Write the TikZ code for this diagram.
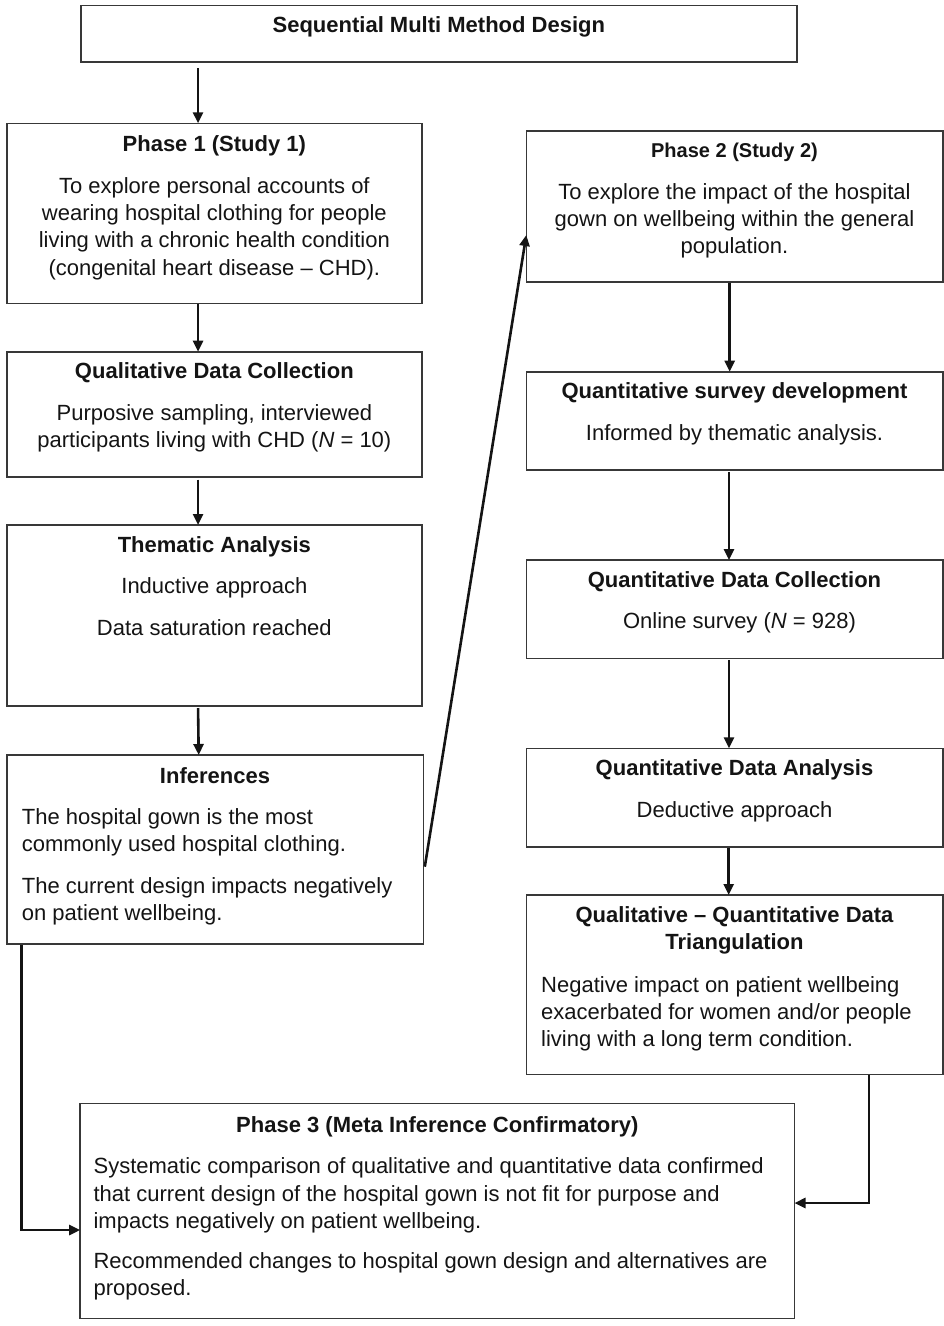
\documentclass[tikz,border=0pt]{standalone}
\usepackage{fontspec}
\setmainfont{Liberation Sans}
\usetikzlibrary{arrows.meta,calc}
\begin{document}
\begin{tikzpicture}[x=1pt,y=-1pt,
  box/.style={draw=black!78,line width=1.6pt,inner sep=0pt,outer sep=0pt,anchor=north west},
  hd/.style={font=\fontsize{22}{27.3}\selectfont\bfseries,inner sep=0pt,text=black!92,align=center},
  hdsmall/.style={font=\fontsize{20}{25}\selectfont\bfseries,inner sep=0pt,text=black!92},
  bd/.style={font=\fontsize{22}{27.3}\selectfont,inner sep=0pt,text=black!92},
  arr/.style={draw=black!92,line width=2.6pt,-{Triangle[length=11pt,width=10pt]}}]
\useasboundingbox (0,0) rectangle (944,1326);

% boxes
\node[box,minimum width=716.3pt,minimum height=56.4pt] (top) at (80.7,5.3) {};
\node[box,minimum width=415.3pt,minimum height=180pt] (p1) at (6.7,123.3) {};
\node[box,minimum width=415.3pt,minimum height=125pt] (qdc) at (6.7,351.7) {};
\node[box,minimum width=415.3pt,minimum height=181pt] (ta) at (6.7,525) {};
\node[box,minimum width=416.6pt,minimum height=189pt] (inf) at (6.7,755) {};
\node[box,minimum width=416.4pt,minimum height=150.7pt] (p2) at (526.3,131) {};
\node[box,minimum width=416.4pt,minimum height=98.3pt] (qsd) at (526.3,371.7) {};
\node[box,minimum width=416.4pt,minimum height=98.3pt] (qnc) at (526.3,560) {};
\node[box,minimum width=416.4pt,minimum height=98.4pt] (qda) at (526.3,748.3) {};
\node[box,minimum width=416.4pt,minimum height=179.3pt] (tri) at (526.3,895) {};
\node[box,minimum width=714.3pt,minimum height=215pt] (p3) at (80.2,1103.3) {};

% texts
\node[hd,anchor=base] (toph) at ($(top.north)+(0,26.7)$) {Sequential Multi Method Design};

\node[hd,anchor=base] (p1h) at ($(p1.north)+(0,27.7)$) {Phase 1 (Study 1)};
\node[bd,anchor=north,align=center] (p1b) at ($(p1.north)+(0,50.6)$)
  {\strut To explore personal accounts of\\wearing hospital clothing for people\\living with a chronic health condition\\(congenital heart disease -- CHD).};

\node[hd,anchor=base] (qdch) at ($(qdc.north)+(0,27)$) {Qualitative Data Collection};
\node[bd,anchor=north,align=center] (qdcb) at ($(qdc.north)+(0,49.5)$)
  {\strut Purposive sampling, interviewed\\participants living with CHD (\textit{N} = 10)};

\node[hd,anchor=base] (tah) at ($(ta.north)+(0,27.7)$) {Thematic Analysis};
\node[bd,anchor=north,align=center] (tab) at ($(ta.north)+(0,49.6)$)
  {\strut Inductive approach\\[14.3pt]Data saturation reached};

\node[hd,anchor=base] (infh) at ($(inf.north)+(0,28)$) {Inferences};
\node[bd,anchor=north west,align=left] (infb) at ($(inf.north west)+(15,50.2)$)
  {\strut The hospital gown is the most\\commonly used hospital clothing.\\[14.4pt]The current design impacts negatively\\on patient wellbeing.};

\node[hdsmall,anchor=base] (p2h) at ($(p2.north)+(0,26.7)$) {Phase 2 (Study 2)};
\node[bd,anchor=north,align=center] (p2b) at ($(p2.north)+(0,48.9)$)
  {\strut To explore the impact of the hospital\\gown on wellbeing within the general\\population.};

\node[hd,anchor=base] (qsdh) at ($(qsd.north)+(0,27)$) {Quantitative survey development};
\node[bd,anchor=north,align=center] (qsdb) at ($(qsd.north)+(0,49.5)$)
  {\strut Informed by thematic analysis.};

\node[hd,anchor=base] (qnch) at ($(qnc.north)+(0,27)$) {Quantitative Data Collection};
\node[bd,anchor=north,align=center] (qncb) at ($(qnc.north)+(5,49.6)$)
  {\strut Online survey (\textit{N} = 928)};

\node[hd,anchor=base] (qdah) at ($(qda.north)+(0,27)$) {Quantitative Data Analysis};
\node[bd,anchor=north,align=center] (qdab) at ($(qda.north)+(0,50.3)$)
  {\strut Deductive approach};

\node[hd,anchor=north] (trih) at ($(tri.north)+(0,7.9)$)
  {\strut Qualitative -- Quantitative Data\\Triangulation};
\node[bd,anchor=north west,align=left] (trib) at ($(tri.north west)+(14.7,77.9)$)
  {\strut Negative impact on patient wellbeing\\exacerbated for women and/or people\\living with a long term condition.};

\node[hd,anchor=base] (p3h) at ($(p3.north)+(0,28.7)$) {Phase 3 (Meta Inference Confirmatory)};
\node[bd,anchor=north west,align=left] (p3b) at ($(p3.north west)+(13.2,51.3)$)
  {\strut Systematic comparison of qualitative and quantitative data confirmed\\that current design of the hospital gown is not fit for purpose and\\impacts negatively on patient wellbeing.\\[12.7pt]Recommended changes to hospital gown design and alternatives are\\proposed.};

% connectors
\draw[arr] ($(p1.north)+(-16.3,-55.3)$) -- ($(p1.north)+(-16.3,0)$);
\draw[arr] ($(p1.south)+(-16.3,1)$) -- ($(qdc.north)+(-16.3,0)$);
\draw[arr] ($(qdc.south)+(-16.3,3)$) -- ($(ta.north)+(-16.3,0)$);
\draw[arr] ($(ta.south)+(-16.3,2)$) -- ($(inf.north)+(-16.3,0)$);
\draw[arr] ($(inf.north east)+(1.5,111.7)$) -- ($(p2.north west)+(0,104)$);
\draw[arr] ($(p2.south)+(-4.8,1)$) -- ($(qsd.north)+(-4.8,0)$);
\draw[arr] ($(qsd.south)+(-5.5,2)$) -- ($(qnc.north)+(-5.5,0)$);
\draw[arr] ($(qnc.south)+(-5.5,2)$) -- ($(qda.north)+(-5.5,0)$);
\draw[arr] ($(qda.south)+(-5.8,1)$) -- ($(tri.north)+(-5.8,0)$);
\draw[arr] ($(inf.south west)+(15,1)$) |- ($(p3.north west)+(0,126.7)$);
\draw[arr] ($(tri.south west)+(342.7,1)$) |- ($(p3.north east)+(0,99.7)$);
\end{tikzpicture}
\end{document}
